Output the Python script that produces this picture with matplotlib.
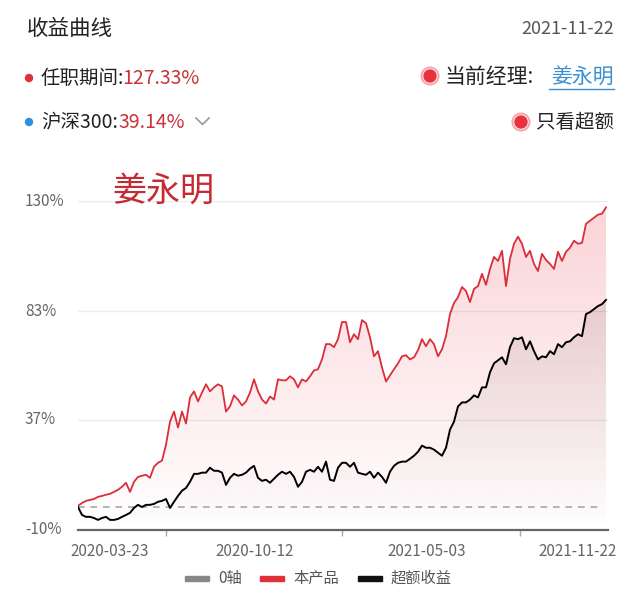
import numpy as np
import matplotlib
matplotlib.use("Agg")
import matplotlib.pyplot as plt
from matplotlib.patches import Circle, Rectangle
from matplotlib.transforms import blended_transform_factory

plt.rcParams['font.family'] = ['Noto Sans CJK SC', 'DejaVu Sans']

# cumulative return of the fund (%) and excess return over CSI 300 (%)
product = [0.3, 1.5, 2.4, 2.8, 3.2, 4.1, 4.5, 5.0, 5.4, 6.2,
           7.1, 8.4, 10.1, 6.2, 10.5, 12.6, 13.1, 13.5, 12.2, 16.9,
           18.6, 19.5, 26.3, 36.1, 40.4, 33.6, 40.4, 35.3, 46.4, 49.0,
           44.7, 48.5, 52.0, 49.0, 50.7, 52.0, 51.1, 40.4, 42.6, 47.3,
           45.5, 43.0, 44.7, 48.5, 54.1, 49.0, 45.5, 43.8, 46.8, 45.5,
           54.1, 53.7, 53.7, 55.4, 54.1, 50.7, 54.1, 53.2, 55.4, 57.9,
           58.4, 62.6, 69.1, 69.1, 67.8, 71.2, 78.5, 78.5, 69.9, 73.3,
           71.2, 79.3, 78.0, 72.0, 63.9, 66.1, 59.2, 53.2, 55.8, 58.4,
           60.9, 63.9, 64.4, 62.6, 63.5, 66.5, 71.2, 68.2, 71.2, 69.1,
           63.9, 66.9, 72.5, 81.9, 86.6, 89.1, 93.4, 91.7, 87.0, 92.6,
           93.8, 99.0, 94.3, 101.1, 106.2, 104.5, 108.8, 93.8, 105.4, 111.8,
           114.8, 111.8, 106.2, 108.8, 103.2, 100.2, 107.5, 104.9, 103.2, 101.1,
           108.4, 104.5, 108.4, 110.1, 113.1, 111.8, 112.2, 120.3, 121.6, 122.9,
           124.2, 124.6, 127.3]
excess = [-0.2, -3.6, -4.4, -4.4, -4.9, -5.7, -4.9, -4.4, -5.7, -5.7,
          -5.3, -4.4, -3.6, -2.7, -0.6, 0.7, -0.2, 0.7, 0.7, 1.1,
          2.0, 2.4, 3.2, -0.6, 2.0, 4.5, 6.7, 7.9, 10.5, 13.9,
          13.9, 14.4, 14.4, 16.5, 15.2, 15.2, 14.4, 9.2, 12.2, 13.9,
          13.1, 13.5, 14.4, 16.1, 17.3, 12.2, 10.9, 11.4, 10.1, 11.8,
          13.5, 14.8, 13.9, 14.8, 12.6, 8.4, 10.5, 14.8, 15.6, 14.8,
          16.9, 14.8, 19.1, 11.4, 10.9, 16.5, 18.6, 18.6, 16.9, 18.6,
          14.4, 13.9, 13.5, 14.8, 12.2, 14.4, 12.6, 10.1, 14.8, 17.3,
          18.6, 19.1, 19.1, 20.3, 21.6, 23.3, 25.9, 25.0, 25.0, 24.2,
          22.9, 21.6, 25.0, 32.7, 36.1, 42.6, 44.3, 44.3, 45.5, 47.3,
          46.4, 50.7, 50.7, 57.1, 60.9, 62.2, 63.5, 60.5, 67.8, 71.6,
          71.2, 72.0, 66.9, 70.3, 66.1, 62.6, 63.9, 63.5, 66.1, 64.8,
          69.1, 67.8, 69.9, 70.3, 72.0, 73.3, 72.5, 81.9, 82.7, 84.0,
          85.3, 86.1, 87.9]

y_ticks = [-10, 37, 83, 130]
y_labels = ['-10%', '37%', '83%', '130%']
x_labels = ['2020-03-23', '2020-10-12', '2021-05-03', '2021-11-22']
x_label_pos = [8, 44.25, 87.25, 125]
x_tick_pos = [22, 66, 110.5]

RED = '#d92f3a'
x = np.arange(len(product))
ymin, ymax = -10, 130

fig = plt.figure(figsize=(6.4, 5.97), dpi=100)
ax = fig.add_axes([78 / 640, 1 - 530 / 597, 530 / 640, 329 / 597])
ax.set_xlim(0, len(product) - 0.5)
ax.set_ylim(ymin, ymax)


def gradient_fill(ax, x, y, rgb, a_top, top, z):
    n = 256
    img = np.zeros((n, 1, 4))
    img[:, 0, :3] = rgb
    img[:, 0, 3] = np.linspace(a_top, 0, n)
    im = ax.imshow(img, aspect='auto', origin='upper',
                   extent=[x[0], x[-1], ymin, top], zorder=z,
                   interpolation='bilinear')
    poly = ax.fill_between(x, y, ymin, facecolor='none', edgecolor='none')
    im.set_clip_path(poly.get_paths()[0], transform=ax.transData)


gradient_fill(ax, x, product, (0.92, 0.15, 0.2), 0.2, max(product), 1)
gradient_fill(ax, x, excess, (0.4, 0.25, 0.25), 0.13, max(excess), 2)

for v in y_ticks[1:]:
    ax.axhline(v, color='#ececec', lw=1, zorder=0)
ax.plot([0, len(product) - 2], [0, 0], color='#a8a8a8', lw=1.2,
        dashes=(4, 3.5), zorder=3)

ax.plot(x, product, color=RED, lw=1.3, zorder=4)
ax.plot(x, excess, color='black', lw=1.4, zorder=5)

for s in ['top', 'right', 'left']:
    ax.spines[s].set_visible(False)
ax.spines['bottom'].set_color('#666666')
ax.spines['bottom'].set_linewidth(1.6)
ax.set_yticks([])
ax.set_xticks(x_tick_pos)
ax.set_xticklabels([])
ax.tick_params(axis='x', length=4, color='#aaaaaa', width=1)

ytr = blended_transform_factory(fig.transFigure, ax.transData)
for v, lab in zip(y_ticks, y_labels):
    ax.text(25 / 640, v, lab, transform=ytr, ha='left', va='center',
            fontsize=11, color='#666666')
xtr = blended_transform_factory(ax.transData, fig.transFigure)
for p, lab in zip(x_label_pos, x_labels):
    ax.text(p, 1 - 552 / 597, lab, transform=xtr, ha='center', va='center',
            fontsize=11, color='#666666')

ax.text(0.065, 1.03, '姜永明', transform=ax.transAxes, fontsize=24.5,
        color='#c62a33', ha='left', va='center', zorder=6)

# header and legend drawn on a pixel-sized overlay
ov = fig.add_axes([0, 0, 1, 1], zorder=10)
ov.set_xlim(0, 640)
ov.set_ylim(597, 0)
ov.axis('off')
ov.patch.set_alpha(0)

ov.text(27, 29, '收益曲线', fontsize=15.5, color='#222222', va='center')
ov.text(614, 29, '2021-11-22', fontsize=13, color='#555555', va='center',
        ha='right')

ov.add_patch(Circle((29, 78), 3.5, color='#e0313a'))
ov.text(41, 78, '任职期间:', fontsize=14, color='#222222', va='center')
ov.text(122, 78, '127.33%', fontsize=14, color='#c8343c', va='center')
ov.add_patch(Circle((29, 122), 3.5, color='#2f8fe0'))
ov.text(41, 122, '沪深300:', fontsize=14, color='#222222', va='center')
ov.text(118, 122, '39.14%', fontsize=14, color='#c8343c', va='center')
ov.plot([196, 202.5, 209], [118, 124.5, 118], color='#999999', lw=1.2)

for cx, cy in [(430, 76), (521, 122)]:
    ov.add_patch(Circle((cx, cy), 8.5, facecolor='white', edgecolor='#f2a9ad',
                        lw=1.5))
    ov.add_patch(Circle((cx, cy), 6, color='#e8323d'))
ov.text(445, 77, '当前经理:', fontsize=15, color='#222222', va='center')
ov.text(614, 77, '姜永明', fontsize=15, color='#3a8fd0', va='center',
        ha='right')
ov.plot([549, 614], [89, 89], color='#3a8fd0', lw=1)
ov.text(614, 122, '只看超额', fontsize=14, color='#222222', va='center',
        ha='right')

legend_items = [('0轴', '#888888', 185), ('本产品', '#e0313a', 260),
                ('超额收益', '#111111', 358)]
for lab, col, lx in legend_items:
    ov.add_patch(Rectangle((lx, 576), 24, 5, color=col))
    ov.text(lx + 33, 578, lab, fontsize=11, color='#555555', va='center')

fig.savefig('out.png', dpi=100, facecolor='white')
